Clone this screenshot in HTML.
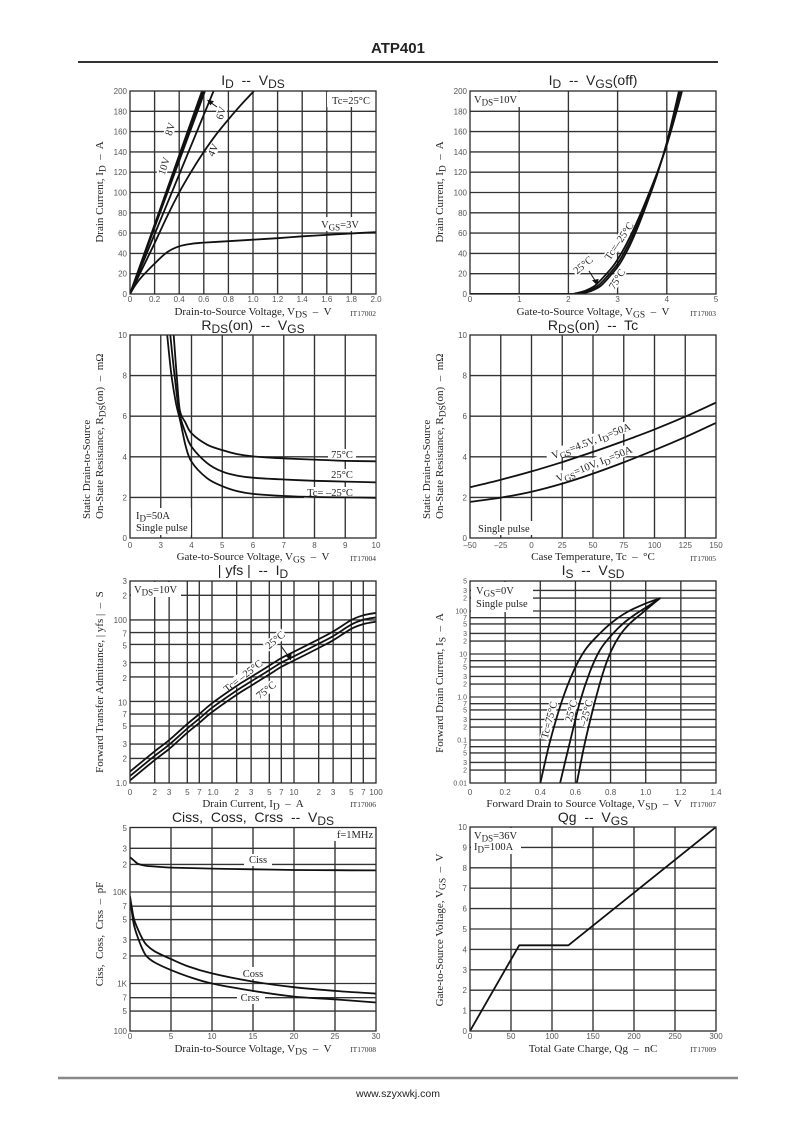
<!DOCTYPE html>
<html><head><meta charset="utf-8">
<style>
html,body{margin:0;padding:0;background:#fff;width:796px;height:1125px;overflow:hidden;}
svg{display:block;}
text{white-space:pre;}
.t{font-family:"Liberation Sans",Arial,sans-serif;font-size:14px;fill:#222;}
.tk{font-family:"Liberation Sans",Arial,sans-serif;font-size:8px;fill:#555;}
.tks{font-family:"Liberation Sans",Arial,sans-serif;font-size:7px;fill:#555;}
.ax{font-family:"Liberation Serif","Times New Roman",serif;font-size:11px;fill:#222;}
.lb{font-family:"Liberation Serif","Times New Roman",serif;font-size:10.5px;fill:#222;}
.it{font-family:"Liberation Serif","Times New Roman",serif;font-size:7.5px;fill:#333;}
</style></head><body>
<svg id="s" width="796" height="1125" viewBox="0 0 796 1125" xmlns="http://www.w3.org/2000/svg">
<defs>
<clipPath id="k1"><rect x="130" y="91" width="246" height="203"/></clipPath>
<clipPath id="k2"><rect x="470" y="91" width="246" height="203"/></clipPath>
<clipPath id="k3"><rect x="130" y="335" width="246" height="203"/></clipPath>
<clipPath id="k4"><rect x="470" y="335" width="246" height="203"/></clipPath>
<clipPath id="k5"><rect x="130" y="581" width="246" height="202"/></clipPath>
<clipPath id="k6"><rect x="470" y="581" width="246" height="202"/></clipPath>
<clipPath id="k7"><rect x="130" y="827.5" width="246" height="203.5"/></clipPath>
<clipPath id="k8"><rect x="470" y="827" width="246" height="204"/></clipPath>
</defs>
<rect width="796" height="1125" fill="#fff"/>

<!-- header -->
<text x="398" y="53" text-anchor="middle" font-family="Liberation Sans, Arial, sans-serif" font-weight="bold" font-size="15" fill="#222">ATP401</text>
<line x1="78" y1="62" x2="718" y2="62" stroke="#333" stroke-width="2"/>

<g id="grid" stroke="#333" stroke-width="1.35"></g>

<!-- white label boxes -->
<g fill="#fff">
<rect x="327" y="92" width="48" height="15"/>
<rect x="316" y="217" width="48" height="14"/>
<rect x="-10" y="-5" width="20" height="10" transform="translate(164,166) rotate(-72)"/>
<rect x="-7" y="-5" width="14" height="10" transform="translate(170,129) rotate(-72)"/>
<rect x="-7" y="-5" width="14" height="10" transform="translate(221,113) rotate(-72)"/>
<rect x="-7" y="-5" width="14" height="10" transform="translate(213,150) rotate(-65)"/>
<rect x="471" y="92" width="50" height="15"/>
<rect x="-22" y="-5" width="44" height="10" transform="translate(619,241) rotate(-56)"/>
<rect x="-12" y="-5" width="24" height="10" transform="translate(583,265) rotate(-40)"/>
<rect x="-12" y="-5" width="24" height="10" transform="translate(617,279) rotate(-58)"/>
<rect x="328" y="449" width="28" height="12"/>
<rect x="328" y="469" width="28" height="12"/>
<rect x="304" y="487" width="52" height="11"/>
<rect x="131" y="508" width="60" height="27"/>
<rect x="-47" y="-6" width="94" height="11" transform="translate(591,441) rotate(-21)"/>
<rect x="-45" y="-6" width="90" height="11" transform="translate(594,464) rotate(-22)"/>
<rect x="476" y="521" width="57" height="14"/>
<rect x="131" y="582" width="50" height="15"/>
<rect x="-12" y="-5" width="24" height="10" transform="translate(275,640) rotate(-40)"/>
<rect x="-23" y="-5" width="46" height="10" transform="translate(243,676) rotate(-38)"/>
<rect x="-12" y="-5" width="24" height="10" transform="translate(266,690) rotate(-38)"/>
<rect x="471" y="582" width="62" height="30"/>
<rect x="-20" y="-4.5" width="40" height="9" transform="translate(549,720) rotate(-75)"/>
<rect x="-12" y="-4.5" width="24" height="9" transform="translate(571,711) rotate(-75)"/>
<rect x="-14" y="-4.5" width="28" height="9" transform="translate(586,713) rotate(-75)"/>
<rect x="332" y="828" width="43" height="13"/>
<rect x="244" y="854" width="28" height="12"/>
<rect x="239" y="967" width="29" height="12"/>
<rect x="237" y="992" width="28" height="12"/>
<rect x="471" y="828" width="50" height="26"/>
</g>

<g id="crv" fill="none" stroke="#111" stroke-width="1.8" stroke-linejoin="round" stroke-linecap="round"></g>
<g id="frm" fill="none" stroke="#2a2a2a" stroke-width="1.3"></g>

<!-- arrows -->
<g stroke="#111" stroke-width="1" fill="#111">
<line x1="217" y1="107" x2="210" y2="102"/><polygon points="208,100.5 213,101.5 210.5,104.5"/>
<line x1="589" y1="271" x2="596" y2="282"/><polygon points="597,284.5 593,280.5 598,279.5"/>
<line x1="281" y1="646" x2="289" y2="657"/><polygon points="290.5,659.5 286,655.5 291,654.5"/>
</g>

<!-- titles -->
<text class="t" x="253" y="85" text-anchor="middle">I<tspan font-size="12" dy="3">D</tspan><tspan dy="-3">  --  V</tspan><tspan font-size="12" dy="3">DS</tspan></text>
<text class="t" x="593" y="85" text-anchor="middle">I<tspan font-size="12" dy="3">D</tspan><tspan dy="-3">  --  V</tspan><tspan font-size="12" dy="3">GS</tspan><tspan dy="-3">(off)</tspan></text>
<text class="t" x="253" y="330" text-anchor="middle">R<tspan font-size="12" dy="3">DS</tspan><tspan dy="-3">(on)  --  V</tspan><tspan font-size="12" dy="3">GS</tspan></text>
<text class="t" x="593" y="330" text-anchor="middle">R<tspan font-size="12" dy="3">DS</tspan><tspan dy="-3">(on)  --  Tc</tspan></text>
<text class="t" x="253" y="575" text-anchor="middle">| yfs |  --  I<tspan font-size="12" dy="3">D</tspan></text>
<text class="t" x="593" y="575" text-anchor="middle">I<tspan font-size="12" dy="3">S</tspan><tspan dy="-3">  --  V</tspan><tspan font-size="12" dy="3">SD</tspan></text>
<text class="t" x="253" y="822" text-anchor="middle">Ciss,  Coss,  Crss  --  V<tspan font-size="12" dy="3">DS</tspan></text>
<text class="t" x="593" y="822" text-anchor="middle">Qg  --  V<tspan font-size="12" dy="3">GS</tspan></text>

<!-- x axis titles -->
<text class="ax" x="253" y="315" text-anchor="middle">Drain-to-Source Voltage, V<tspan font-size="9.5" dy="2.5">DS</tspan><tspan dy="-2.5">  –  V</tspan></text>
<text class="it" x="376" y="316" text-anchor="end">IT17002</text>
<text class="ax" x="593" y="315" text-anchor="middle">Gate-to-Source Voltage, V<tspan font-size="9.5" dy="2.5">GS</tspan><tspan dy="-2.5">  –  V</tspan></text>
<text class="it" x="716" y="316" text-anchor="end">IT17003</text>
<text class="ax" x="253" y="560" text-anchor="middle">Gate-to-Source Voltage, V<tspan font-size="9.5" dy="2.5">GS</tspan><tspan dy="-2.5">  –  V</tspan></text>
<text class="it" x="376" y="561" text-anchor="end">IT17004</text>
<text class="ax" x="593" y="560" text-anchor="middle">Case Temperature, Tc  –  °C</text>
<text class="it" x="716" y="561" text-anchor="end">IT17005</text>
<text class="ax" x="253" y="807" text-anchor="middle">Drain Current, I<tspan font-size="9.5" dy="2.5">D</tspan><tspan dy="-2.5">  –  A</tspan></text>
<text class="it" x="376" y="807" text-anchor="end">IT17006</text>
<text class="ax" x="584" y="807" text-anchor="middle">Forward Drain to Source Voltage, V<tspan font-size="9.5" dy="2.5">SD</tspan><tspan dy="-2.5">  –  V</tspan></text>
<text class="it" x="716" y="807" text-anchor="end">IT17007</text>
<text class="ax" x="253" y="1052" text-anchor="middle">Drain-to-Source Voltage, V<tspan font-size="9.5" dy="2.5">DS</tspan><tspan dy="-2.5">  –  V</tspan></text>
<text class="it" x="376" y="1052" text-anchor="end">IT17008</text>
<text class="ax" x="593" y="1052" text-anchor="middle">Total Gate Charge, Qg  –  nC</text>
<text class="it" x="716" y="1052" text-anchor="end">IT17009</text>

<!-- y axis titles -->
<text class="ax" transform="translate(103,192) rotate(-90)" text-anchor="middle">Drain Current, I<tspan font-size="9.5" dy="2.5">D</tspan><tspan dy="-2.5">  –  A</tspan></text>
<text class="ax" transform="translate(443,192) rotate(-90)" text-anchor="middle">Drain Current, I<tspan font-size="9.5" dy="2.5">D</tspan><tspan dy="-2.5">  –  A</tspan></text>
<text class="ax" transform="translate(90,519) rotate(-90)">Static Drain-to-Source</text>
<text class="ax" transform="translate(103,519) rotate(-90)">On-State Resistance, R<tspan font-size="9.5" dy="2.5">DS</tspan><tspan dy="-2.5">(on)  –  mΩ</tspan></text>
<text class="ax" transform="translate(430,519) rotate(-90)">Static Drain-to-Source</text>
<text class="ax" transform="translate(443,519) rotate(-90)">On-State Resistance, R<tspan font-size="9.5" dy="2.5">DS</tspan><tspan dy="-2.5">(on)  –  mΩ</tspan></text>
<text class="ax" transform="translate(103,682) rotate(-90)" text-anchor="middle">Forward Transfer Admittance, | yfs |  –  S</text>
<text class="ax" transform="translate(443,683) rotate(-90)" text-anchor="middle">Forward Drain Current, I<tspan font-size="9.5" dy="2.5">S</tspan><tspan dy="-2.5">  –  A</tspan></text>
<text class="ax" transform="translate(103,934) rotate(-90)" text-anchor="middle">Ciss,  Coss,  Crss  –  pF</text>
<text class="ax" transform="translate(443,930) rotate(-90)" text-anchor="middle">Gate-to-Source Voltage, V<tspan font-size="9.5" dy="2.5">GS</tspan><tspan dy="-2.5">  –  V</tspan></text>

<!-- in-plot labels -->
<text class="lb" x="351" y="104" text-anchor="middle">Tc=25°C</text>
<text class="lb" x="340" y="228" text-anchor="middle">V<tspan font-size="9" dy="2.5">GS</tspan><tspan dy="-2.5">=3V</tspan></text>
<text class="lb" transform="translate(164,166) rotate(-72)" text-anchor="middle" y="3.5">10V</text>
<text class="lb" transform="translate(170,129) rotate(-72)" text-anchor="middle" y="3.5">8V</text>
<text class="lb" transform="translate(221,113) rotate(-72)" text-anchor="middle" y="3.5">6V</text>
<text class="lb" transform="translate(213,150) rotate(-65)" text-anchor="middle" y="3.5">4V</text>

<text class="lb" x="474" y="103">V<tspan font-size="9" dy="2.5">DS</tspan><tspan dy="-2.5">=10V</tspan></text>
<text class="lb" transform="translate(619,241) rotate(-56)" text-anchor="middle" y="3.5">Tc=–25°C</text>
<text class="lb" transform="translate(583,265) rotate(-40)" text-anchor="middle" y="3.5">25°C</text>
<text class="lb" transform="translate(617,279) rotate(-58)" text-anchor="middle" y="3.5">75°C</text>

<text class="lb" x="342" y="458" text-anchor="middle">75°C</text>
<text class="lb" x="342" y="478" text-anchor="middle">25°C</text>
<text class="lb" x="330" y="496" text-anchor="middle">Tc= –25°C</text>
<text class="lb" x="136" y="519">I<tspan font-size="9" dy="2.5">D</tspan><tspan dy="-2.5">=50A</tspan></text>
<text class="lb" x="136" y="531">Single pulse</text>

<text class="lb" transform="translate(591,441) rotate(-21)" text-anchor="middle" y="3.5">V<tspan font-size="9" dy="2.5">GS</tspan><tspan dy="-2.5">=4.5V, I</tspan><tspan font-size="9" dy="2.5">D</tspan><tspan dy="-2.5">=50A</tspan></text>
<text class="lb" transform="translate(594,464) rotate(-22)" text-anchor="middle" y="3.5">V<tspan font-size="9" dy="2.5">GS</tspan><tspan dy="-2.5">=10V, I</tspan><tspan font-size="9" dy="2.5">D</tspan><tspan dy="-2.5">=50A</tspan></text>
<text class="lb" x="478" y="532">Single pulse</text>

<text class="lb" x="134" y="593">V<tspan font-size="9" dy="2.5">DS</tspan><tspan dy="-2.5">=10V</tspan></text>
<text class="lb" transform="translate(275,640) rotate(-40)" text-anchor="middle" y="3.5">25°C</text>
<text class="lb" transform="translate(243,676) rotate(-38)" text-anchor="middle" y="3.5">Tc= –25°C</text>
<text class="lb" transform="translate(266,690) rotate(-38)" text-anchor="middle" y="3.5">75°C</text>

<text class="lb" x="476" y="594">V<tspan font-size="9" dy="2.5">GS</tspan><tspan dy="-2.5">=0V</tspan></text>
<text class="lb" x="476" y="607">Single pulse</text>
<text class="lb" transform="translate(549,720) rotate(-75)" text-anchor="middle" y="3.5">Tc=75°C</text>
<text class="lb" transform="translate(571,711) rotate(-75)" text-anchor="middle" y="3.5">25°C</text>
<text class="lb" transform="translate(586,713) rotate(-75)" text-anchor="middle" y="3.5">–25°C</text>

<text class="lb" x="355" y="838" text-anchor="middle">f=1MHz</text>
<text class="lb" x="258" y="863" text-anchor="middle">Ciss</text>
<text class="lb" x="253" y="977" text-anchor="middle">Coss</text>
<text class="lb" x="250" y="1001" text-anchor="middle">Crss</text>

<text class="lb" x="474" y="839">V<tspan font-size="9" dy="2.5">DS</tspan><tspan dy="-2.5">=36V</tspan></text>
<text class="lb" x="474" y="850">I<tspan font-size="9" dy="2.5">D</tspan><tspan dy="-2.5">=100A</tspan></text>

<!-- tick labels -->
<g class="tk" text-anchor="end">
<text x="127" y="297">0</text><text x="127" y="276.7">20</text><text x="127" y="256.4">40</text><text x="127" y="236.1">60</text><text x="127" y="215.8">80</text><text x="127" y="195.5">100</text><text x="127" y="175.2">120</text><text x="127" y="154.9">140</text><text x="127" y="134.6">160</text><text x="127" y="114.3">180</text><text x="127" y="94">200</text>
<text x="467" y="297">0</text><text x="467" y="276.7">20</text><text x="467" y="256.4">40</text><text x="467" y="236.1">60</text><text x="467" y="215.8">80</text><text x="467" y="195.5">100</text><text x="467" y="175.2">120</text><text x="467" y="154.9">140</text><text x="467" y="134.6">160</text><text x="467" y="114.3">180</text><text x="467" y="94">200</text>
<text x="127" y="541">0</text><text x="127" y="500.4">2</text><text x="127" y="459.8">4</text><text x="127" y="419.2">6</text><text x="127" y="378.6">8</text><text x="127" y="338">10</text>
<text x="467" y="541">0</text><text x="467" y="500.4">2</text><text x="467" y="459.8">4</text><text x="467" y="419.2">6</text><text x="467" y="378.6">8</text><text x="467" y="338">10</text>
<text x="127" y="584">3</text><text x="127" y="598.4">2</text><text x="127" y="622.9">100</text><text x="127" y="636.6">7</text><text x="127" y="648.5">5</text><text x="127" y="666.6">3</text><text x="127" y="680.9">2</text><text x="127" y="705.5">10</text><text x="127" y="717.1">7</text><text x="127" y="729">5</text><text x="127" y="747.1">3</text><text x="127" y="761.5">2</text><text x="127" y="786">1.0</text>
<text x="127" y="831">5</text><text x="127" y="851.3">3</text><text x="127" y="867.5">2</text><text x="127" y="895">10K</text><text x="127" y="909.2">7</text><text x="127" y="922.5">5</text><text x="127" y="942.8">3</text><text x="127" y="959">2</text><text x="127" y="986.5">1K</text><text x="127" y="1000.7">7</text><text x="127" y="1014">5</text><text x="127" y="1034">100</text>
<text x="467" y="1034">0</text><text x="467" y="1013.6">1</text><text x="467" y="993.2">2</text><text x="467" y="972.8">3</text><text x="467" y="952.4">4</text><text x="467" y="932">5</text><text x="467" y="911.6">6</text><text x="467" y="891.2">7</text><text x="467" y="870.8">8</text><text x="467" y="850.4">9</text><text x="467" y="830">10</text>
</g>
<g class="tks" text-anchor="end">
<text x="467" y="583.4">5</text><text x="467" y="593">3</text><text x="467" y="600.6">2</text><text x="467" y="613.5">100</text><text x="467" y="620.2">7</text><text x="467" y="626.4">5</text><text x="467" y="636">3</text><text x="467" y="643.6">2</text><text x="467" y="656.5">10</text><text x="467" y="663.2">7</text><text x="467" y="669.4">5</text><text x="467" y="679">3</text><text x="467" y="686.6">2</text><text x="467" y="699.5">1.0</text><text x="467" y="706.2">7</text><text x="467" y="712.4">5</text><text x="467" y="722">3</text><text x="467" y="729.6">2</text><text x="467" y="742.5">0.1</text><text x="467" y="749.2">7</text><text x="467" y="755.4">5</text><text x="467" y="765">3</text><text x="467" y="772.6">2</text><text x="467" y="785.5">0.01</text>
</g>
<g class="tk" text-anchor="middle">
<text x="130" y="302">0</text><text x="154.6" y="302">0.2</text><text x="179.2" y="302">0.4</text><text x="203.8" y="302">0.6</text><text x="228.4" y="302">0.8</text><text x="253" y="302">1.0</text><text x="277.6" y="302">1.2</text><text x="302.2" y="302">1.4</text><text x="326.8" y="302">1.6</text><text x="351.4" y="302">1.8</text><text x="376" y="302">2.0</text>
<text x="470" y="302">0</text><text x="519.2" y="302">1</text><text x="568.4" y="302">2</text><text x="617.6" y="302">3</text><text x="666.8" y="302">4</text><text x="716" y="302">5</text>
<text x="130" y="548">0</text><text x="160.75" y="548">3</text><text x="191.5" y="548">4</text><text x="222.25" y="548">5</text><text x="253" y="548">6</text><text x="283.75" y="548">7</text><text x="314.5" y="548">8</text><text x="345.25" y="548">9</text><text x="376" y="548">10</text>
<text x="470" y="548">–50</text><text x="500.75" y="548">–25</text><text x="531.5" y="548">0</text><text x="562.25" y="548">25</text><text x="593" y="548">50</text><text x="623.75" y="548">75</text><text x="654.5" y="548">100</text><text x="685.25" y="548">125</text><text x="716" y="548">150</text>
<text x="130" y="795">0</text><text x="154.7" y="795">2</text><text x="169.1" y="795">3</text><text x="187.3" y="795">5</text><text x="199.3" y="795">7</text><text x="213" y="795">1.0</text><text x="236.7" y="795">2</text><text x="251.1" y="795">3</text><text x="269.3" y="795">5</text><text x="281.3" y="795">7</text><text x="294" y="795">10</text><text x="318.7" y="795">2</text><text x="333.1" y="795">3</text><text x="351.3" y="795">5</text><text x="363.3" y="795">7</text><text x="376" y="795">100</text>
<text x="470" y="795">0</text><text x="505.1" y="795">0.2</text><text x="540.3" y="795">0.4</text><text x="575.4" y="795">0.6</text><text x="610.6" y="795">0.8</text><text x="645.7" y="795">1.0</text><text x="680.9" y="795">1.2</text><text x="716" y="795">1.4</text>
<text x="130" y="1039">0</text><text x="171" y="1039">5</text><text x="212" y="1039">10</text><text x="253" y="1039">15</text><text x="294" y="1039">20</text><text x="335" y="1039">25</text><text x="376" y="1039">30</text>
<text x="470" y="1039">0</text><text x="511" y="1039">50</text><text x="552" y="1039">100</text><text x="593" y="1039">150</text><text x="634" y="1039">200</text><text x="675" y="1039">250</text><text x="716" y="1039">300</text>
</g>

<!-- footer -->
<line x1="58" y1="1078" x2="738" y2="1078" stroke="#888" stroke-width="2.5"/>
<text x="398" y="1097" text-anchor="middle" font-family="Liberation Sans, Arial, sans-serif" font-size="10.5" fill="#222">www.szyxwkj.com</text>
</svg>
<script>
(function(){
var NS='http://www.w3.org/2000/svg',L=function(v){return Math.log(v)/Math.LN10;};
var G=document.getElementById('grid'),C=document.getElementById('crv'),F=document.getElementById('frm');
function el(p,n,a){var e=document.createElementNS(NS,n);for(var k in a)e.setAttribute(k,a[k]);p.appendChild(e);return e;}
function f(v){return v.toFixed(1);}
function sm(p){var d='M'+f(p[0][0])+','+f(p[0][1]);for(var i=0;i<p.length-1;i++){var p0=p[i-1]||p[i],p1=p[i],p2=p[i+1],p3=p[i+2]||p2;d+=' C'+[p1[0]+(p2[0]-p0[0])/6,p1[1]+(p2[1]-p0[1])/6,p2[0]-(p3[0]-p1[0])/6,p2[1]-(p3[1]-p1[1])/6,p2[0],p2[1]].map(f).join(' ');}return d;}
function ch(o){
 o.vx.forEach(function(v){var x=o.X(v);el(G,'line',{x1:x,y1:o.y0,x2:x,y2:o.y1});});
 o.hy.forEach(function(v){var y=o.Y(v);el(G,'line',{x1:o.x0,y1:y,x2:o.x1,y2:y});});
 el(F,'rect',{x:o.x0,y:o.y0,width:o.x1-o.x0,height:o.y1-o.y0});
 var g=el(C,'g',{'clip-path':'url(#'+o.id+')'});
 o.cv.forEach(function(c){var s=!!c.s,a=s?c.p:c;var pts=a.map(function(q){return [o.X(q[0]),o.Y(q[1])];});
  el(g,'path',{d:s?'M'+pts.map(function(p){return f(p[0])+','+f(p[1]);}).join(' L'):sm(pts)});});
}
function sc(a,k){return a.map(function(p){return [p[0],p[1]*k];});}
function sh(a,lo,hi){return a.map(function(p){if(p[1]<=0)return p;var t=Math.min(p[1]/200,1);return [p[0]+lo+(hi-lo)*t,p[1]];});}
ch({id:'k1',x0:130,x1:376,y0:91,y1:294,X:function(v){return 130+v*123;},Y:function(i){return 294-i*1.015;},
 vx:[.2,.4,.6,.8,1,1.2,1.4,1.6,1.8],hy:[20,40,60,80,100,120,140,160,180],cv:[
 {s:1,p:[[0,0],[0.585,200]]},{s:1,p:[[0,0],[0.597,200]]},{s:1,p:[[0,0],[0.61,200]]},{s:1,p:[[0,0],[0.68,200]]},
 [[0,0],[0.1,25],[0.2,50],[0.3,76],[0.4,100],[0.5,121],[0.6,140],[0.7,157],[0.8,172],[0.9,186],[1.0,199],[1.05,206]],
 [[0,0],[0.05,10],[0.1,17.5],[0.2,30],[0.3,41],[0.4,47],[0.5,49.5],[0.6,50.6],[0.8,52],[1.0,53.5],[1.2,55],[1.4,56.8],[1.6,58.2],[1.8,59.6],[2.0,61]]]});
var b2=[[0,0],[1,0],[2,0],[2.2,0.5],[2.4,3],[2.6,8],[2.8,18],[3.0,30],[3.2,47],[3.4,68],[3.6,92],[3.8,118],[4.0,148],[4.2,185],[4.3,205]];
ch({id:'k2',x0:470,x1:716,y0:91,y1:294,X:function(v){return 470+v*49.2;},Y:function(i){return 294-i*1.015;},
 vx:[1,2,3,4],hy:[20,40,60,80,100,120,140,160,180],cv:[sh(b2,-0.07,0.035),b2,sh(b2,0.06,-0.03)]});
ch({id:'k3',x0:130,x1:376,y0:335,y1:538,X:function(v){return v<=3?130+v*10.25:130+(v-2)*30.75;},Y:function(r){return 538-r*20.3;},
 vx:[3,4,5,6,7,8,9],hy:[2,4,6,8],cv:[
 [[3.15,11],[3.21,10],[3.35,8],[3.5,6.6],[3.63,5.8],[3.8,4.6],[4,3.76],[4.5,2.95],[5,2.55],[5.5,2.3],[6,2.17],[7,2.07],[8,2.02],[9,2.0],[10,1.98]],
 [[3.26,11],[3.31,10],[3.45,8],[3.6,6.2],[3.8,5.2],[4,4.5],[4.5,3.7],[5,3.27],[5.5,3.07],[6,2.97],[7,2.88],[8,2.82],[9,2.78],[10,2.74]],
 [[3.38,11],[3.42,10],[3.52,8],[3.62,6.3],[3.8,5.7],[4,5.16],[4.5,4.6],[5,4.33],[5.5,4.13],[6,4.02],[7,3.92],[8,3.86],[9,3.8],[10,3.78]]]});
ch({id:'k4',x0:470,x1:716,y0:335,y1:538,X:function(t){return 470+(t+50)*1.23;},Y:function(r){return 538-r*20.3;},
 vx:[-25,0,25,50,75,100,125],hy:[2,4,6,8],cv:[
 [[-50,2.5],[-25,2.87],[0,3.28],[25,3.74],[50,4.24],[75,4.78],[100,5.35],[125,5.98],[150,6.67]],
 [[-50,1.78],[-25,1.99],[0,2.28],[25,2.68],[50,3.17],[75,3.73],[100,4.33],[125,4.97],[150,5.67]]]});
var T=[[0.1,1.38],[0.2,2.45],[0.3,3.35],[0.5,5.3],[0.7,7.0],[1,9.5],[2,15.5],[3,20],[5,27.5],[7,34],[10,40.7],[20,58],[30,72],[50,99.6],[70,114],[100,122]];
ch({id:'k5',x0:130,x1:376,y0:581,y1:783,X:function(i){return 130+L(i/0.1)*82;},Y:function(g){return 783-L(g)*81.55;},
 vx:[0.2,0.3,0.5,0.7,1,2,3,5,7,10,20,30,50,70],hy:[2,3,5,7,10,20,30,50,70,100,200],cv:[T,sc(T,0.88),sc(T,0.78)]});
ch({id:'k6',x0:470,x1:716,y0:581,y1:783,X:function(v){return 470+v*175.71;},Y:function(i){return 783-L(i/0.01)*43.0;},
 vx:[.2,.4,.6,.8,1,1.2],hy:[0.02,0.03,0.05,0.07,0.1,0.2,0.3,0.5,0.7,1,2,3,5,7,10,20,30,50,70,100,200,300],cv:[
 [[0.395,0.008],[0.455,0.091],[0.522,0.78],[0.588,3.9],[0.655,12.4],[0.73,27.6],[0.81,55],[0.895,95],[1.0,150],[1.081,197]],
 [[0.507,0.008],[0.569,0.091],[0.626,0.78],[0.683,3.9],[0.74,12.4],[0.806,27.6],[0.873,51.8],[0.949,88],[1.024,138],[1.081,197]],
 [[0.603,0.008],[0.655,0.091],[0.711,0.78],[0.759,3.9],[0.806,12.4],[0.854,27.6],[0.911,51.8],[0.977,88],[1.034,138],[1.081,197]]]});
ch({id:'k7',x0:130,x1:376,y0:827.5,y1:1031,X:function(v){return 130+v*8.2;},Y:function(c){return 983.5-L(c/1000)*91.5;},
 vx:[5,10,15,20,25],hy:[500,700,1000,2000,3000,5000,7000,10000,20000,30000],cv:[
 [[0,24000],[0.5,22000],[1,20300],[2,19300],[3,19000],[5,18500],[10,18000],[15,17700],[20,17400],[25,17300],[30,17200]],
 [[0,9000],[0.25,6500],[0.5,5000],[1,3850],[1.5,3100],[2,2650],[3,2250],[5,1850],[7,1550],[10,1290],[15,1050],[20,910],[25,830],[30,775]],
 [[0,8500],[0.25,5800],[0.5,4300],[1,3100],[1.5,2400],[2,2000],[3,1700],[5,1400],[7,1200],[10,1000],[15,830],[20,720],[25,670],[30,620]]]});
ch({id:'k8',x0:470,x1:716,y0:827,y1:1031,X:function(q){return 470+q*0.82;},Y:function(v){return 1031-v*20.4;},
 vx:[50,100,150,200,250],hy:[1,2,3,4,5,6,7,8,9],cv:[{s:1,p:[[0,0],[60,4.2],[120,4.2],[300,10]]}]});
})();
</script>
</body></html>
